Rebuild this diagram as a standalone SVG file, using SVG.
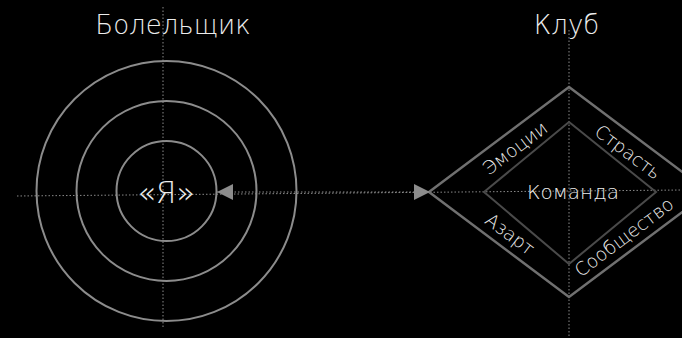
<svg xmlns="http://www.w3.org/2000/svg" width="682" height="338" viewBox="0 0 682 338">
<defs>
<style>
.t{font-family:"DejaVu Sans","Liberation Sans",sans-serif;font-weight:300;fill:#ececec;}
.title{font-size:26px;text-anchor:middle;}
.lbl{font-size:18.5px;text-anchor:middle;dominant-baseline:central;}
.ring{fill:none;stroke:#8c8c8c;stroke-width:2;}
.guide{stroke:#8a8a8a;stroke-width:1;stroke-dasharray:1.5 2;fill:none;}
.outer{fill:none;stroke:#707070;stroke-width:2.5;}
.inner{fill:none;stroke:#4a4a4a;stroke-width:2;}
</style>
<marker id="tri" viewBox="0 0 16 16" refX="16" refY="8" markerWidth="16" markerHeight="16" markerUnits="userSpaceOnUse" orient="auto-start-reverse">
<path d="M0,0 L16,8 L0,16 Z" fill="#8c8c8c"/>
</marker>
</defs>
<rect width="682" height="338" fill="#000"/>
<g id="guides">
<line class="guide" x1="163" y1="7" x2="163" y2="328"/>
<line class="guide" x1="569" y1="30" x2="569" y2="338"/>
<line class="guide" x1="17" y1="196" x2="682" y2="190"/>
</g>
<g id="fan">
<text class="t title" x="173" y="34">Болельщик</text>
<circle class="ring" cx="166.5" cy="191" r="130"/>
<circle class="ring" cx="166.5" cy="191" r="90"/>
<circle class="ring" cx="166.5" cy="191" r="50"/>
<text class="t" x="166" y="203" font-size="30" text-anchor="middle">«Я»</text>
</g>
<g id="club">
<text class="t title" x="566.5" y="34">Клуб</text>
<polygon class="outer" points="569,87 709,192 569,297 429,192"/>
<polygon class="inner" points="569,122 656,192 569,264 484,192"/>
<text class="t" x="573" y="199" font-size="20" text-anchor="middle">Команда</text>
<text class="t lbl" transform="translate(515,148) rotate(-36.87)">Эмоции</text>
<text class="t lbl" transform="translate(628,152) rotate(36.87)">Страсть</text>
<text class="t lbl" transform="translate(510,234) rotate(36.87)">Азарт</text>
<text class="t lbl" transform="translate(624,237) rotate(-36.87)">Сообщество</text>
</g>
<g id="connectors">
<line x1="217" y1="192" x2="430" y2="192" stroke="#8a8a8a" stroke-width="1" stroke-dasharray="1.5 2" marker-start="url(#tri)" marker-end="url(#tri)"/>
</g>
</svg>
